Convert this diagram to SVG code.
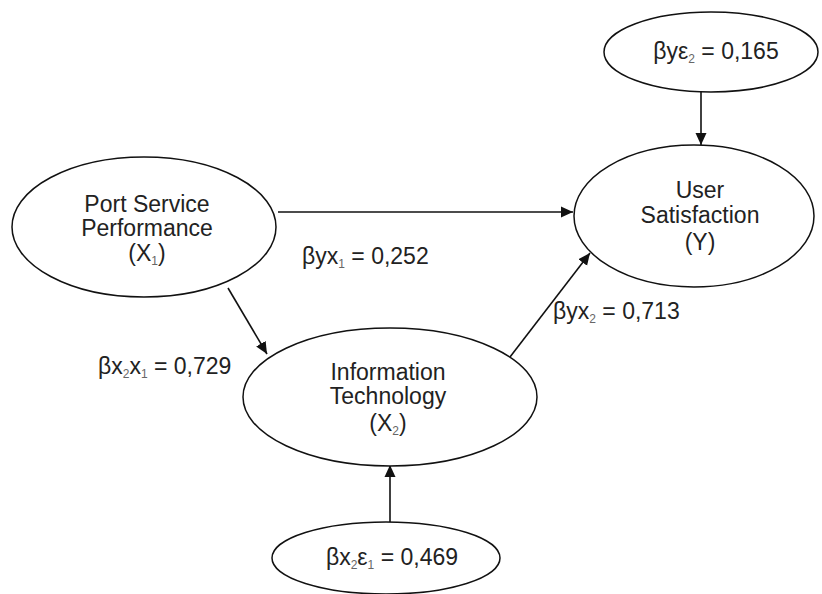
<svg xmlns="http://www.w3.org/2000/svg" width="822" height="594" viewBox="0 0 822 594">
<style>
.n{fill:#fff;stroke:#111;stroke-width:1.5}
.t{font-family:"Liberation Sans",Arial,sans-serif;font-size:23px;fill:#222;text-anchor:middle}
.l{font-family:"Liberation Sans",Arial,sans-serif;font-size:23px;fill:#222}
.s{font-size:12px;fill:#666}
.c{stroke:#111;stroke-width:1.6;fill:none;marker-end:url(#ah)}
</style>
<defs>
<marker id="ah" viewBox="0 0 12 12" refX="12" refY="6" markerWidth="12" markerHeight="12" markerUnits="userSpaceOnUse" orient="auto">
<path d="M0,0.5 L12,6 L0,11.5 z" fill="#111"/>
</marker>
</defs>
<g id="connectors">
<line class="c" x1="701" y1="92" x2="701" y2="145"/>
<line class="c" x1="278" y1="212" x2="573" y2="212"/>
<line class="c" x1="228" y1="288" x2="267" y2="354"/>
<line class="c" x1="510" y1="357" x2="590" y2="253"/>
<line class="c" x1="390" y1="522" x2="390" y2="465"/>
</g>
<g id="port-service">
<ellipse class="n" cx="144" cy="227" rx="132" ry="70"/>
<text class="t" x="147" y="212">Port Service</text>
<text class="t" x="147" y="236">Performance</text>
<text class="t" x="147" y="261">(X<tspan class="s" dy="4">1</tspan><tspan dy="-4">)</tspan></text>
</g>
<g id="user-satisfaction">
<ellipse class="n" cx="694" cy="216" rx="120" ry="71"/>
<text class="t" x="700" y="198">User</text>
<text class="t" x="700" y="223">Satisfaction</text>
<text class="t" x="700" y="250">(Y)</text>
</g>
<g id="error-y">
<ellipse class="n" cx="711" cy="52" rx="107" ry="40"/>
<text class="t" x="716" y="59">βyε<tspan class="s" dy="4">2</tspan><tspan dy="-4"> = 0,165</tspan></text>
</g>
<g id="information-technology">
<ellipse class="n" cx="390" cy="397" rx="147" ry="69"/>
<text class="t" x="388" y="380">Information</text>
<text class="t" x="388" y="404">Technology</text>
<text class="t" x="388" y="431">(X<tspan class="s" dy="4">2</tspan><tspan dy="-4">)</tspan></text>
</g>
<g id="error-x2">
<ellipse class="n" cx="386" cy="558" rx="114" ry="36"/>
<text class="t" x="392" y="565">βx<tspan class="s" dy="4">2</tspan><tspan dy="-4">ε</tspan><tspan class="s" dy="4">1</tspan><tspan dy="-4"> = 0,469</tspan></text>
</g>
<g id="labels">
<text class="l" x="302" y="264">βyx<tspan class="s" dy="4">1</tspan><tspan dy="-4"> = 0,252</tspan></text>
<text class="l" x="553" y="319">βyx<tspan class="s" dy="4">2</tspan><tspan dy="-4"> = 0,713</tspan></text>
<text class="l" x="98" y="374">βx<tspan class="s" dy="4">2</tspan><tspan dy="-4">x</tspan><tspan class="s" dy="4">1</tspan><tspan dy="-4"> = 0,729</tspan></text>
</g>
</svg>
